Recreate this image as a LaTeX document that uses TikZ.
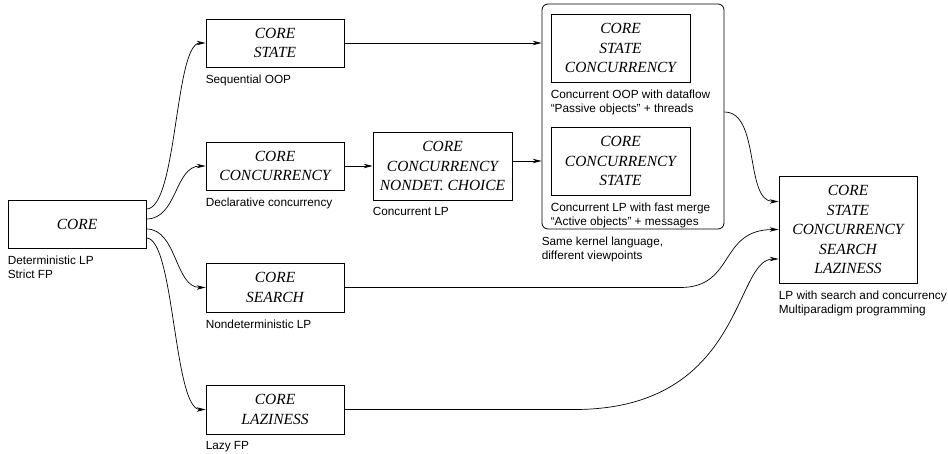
\documentclass[tikz,border=0pt]{standalone}
\usepackage{fontspec}
\setmainfont{Liberation Serif}
\setsansfont{Liberation Sans}
\usetikzlibrary{arrows.meta, positioning}

\begin{document}
\begin{tikzpicture}[x=1pt, y=-1pt, node distance=7pt,
    box/.style = {draw, line width=0.8pt, align=center, minimum width=138pt,
                  inner sep=0pt, font=\itshape\fontsize{15.5}{19.5}\selectfont},
    lbl/.style = {anchor=north west, align=left, inner sep=0pt,
                  font=\sffamily\fontsize{11.8}{14}\selectfont},
    arr/.style = {line width=0.7pt, -{Stealth[length=9pt, width=4.5pt]}} ]

\useasboundingbox (0,0) rectangle (948,453);

% language boxes
\node (core)   [box, minimum height=48pt] at (77,224)     {CORE};
\node (state)  [box, minimum height=48pt] at (275,43)     {CORE\\STATE};
\node (conc)   [box, minimum height=48pt] at (275,166)    {CORE\\CONCURRENCY};
\node (search) [box, minimum height=49pt] at (275,287.5)  {CORE\\SEARCH};
\node (laz)    [box, minimum height=49pt] at (275,409.5)  {CORE\\LAZINESS};
\node (choice) [box, minimum width=139pt, minimum height=68pt] at (442.5,166)
               {CORE\\CONCURRENCY\\NONDET. CHOICE};

% same kernel language
\node (kernel) [draw, rounded corners=6pt, line width=0.8pt,
                minimum width=182pt, minimum height=225pt] at (633,116.5) {};
\node (stconc) [box, minimum width=139pt, minimum height=68pt] at (620.5,48)
               {CORE\\STATE\\CONCURRENCY};
\node (concst) [box, minimum width=139pt, minimum height=68pt] at (620.5,161)
               {CORE\\CONCURRENCY\\STATE};

\node (big)    [box, minimum height=107pt] at (848,229.5)
               {CORE\\STATE\\CONCURRENCY\\SEARCH\\LAZINESS};

% captions
\node (lcore)   [below=7pt of core.south west, lbl]   {Deterministic LP\\Strict FP};
\node (lstate)  [below=7pt of state.south west, lbl]  {Sequential OOP};
\node (lconc)   [below=7pt of conc.south west, lbl]   {Declarative concurrency};
\node (lsearch) [below=7pt of search.south west, lbl] {Nondeterministic LP};
\node (llaz)    [below=7pt of laz.south west, lbl]    {Lazy FP};
\node (lchoice) [below=7pt of choice.south west, lbl] {Concurrent LP};
\node (lstconc) [below=7pt of stconc.south west, lbl]
                {Concurrent OOP with dataflow\\“Passive objects” + threads};
\node (lconcst) [below=7pt of concst.south west, lbl]
                {Concurrent LP with fast merge\\“Active objects” + messages};
\node (lkernel) [below=7pt of kernel.south west, lbl]
                {Same kernel language,\\different viewpoints};
\node (lbig)    [below=7pt of big.south west, lbl]
                {LP with search and concurrency\\Multiparadigm programming};

% connectors
\draw[arr] ([yshift=15pt]core.east) .. controls +(31,0) and +(-31,0) .. (state.west);
\draw[arr] ([yshift=5pt]core.east) .. controls +(31,0) and +(-31,0) .. (conc.west);
\draw[arr] ([yshift=-5pt]core.east) .. controls +(31,0) and +(-31,0) .. (search.west);
\draw[arr] ([yshift=-14pt]core.east) .. controls +(28,0) and +(-32,0) .. (laz.west);

\draw[arr] (state.east) -- (state.east -| kernel.west);
\draw[arr] (conc.east) -- (choice.west);
\draw[arr] ([yshift=5pt]choice.east) -- ([yshift=5pt]choice.east -| kernel.west);

\draw[arr] ([yshift=4.5pt]kernel.east) .. controls +(36,0) and +(-34,0) .. ([yshift=28pt]big.west);
\draw[arr] (search.east) -- ++(336,0) .. controls +(55,0) and +(-60,0) .. (big.west);
\draw[arr] (laz.east) -- ++(230,0) .. controls +(170,0) and +(-45,0) .. ([yshift=-29.5pt]big.west);
\end{tikzpicture}
\end{document}
